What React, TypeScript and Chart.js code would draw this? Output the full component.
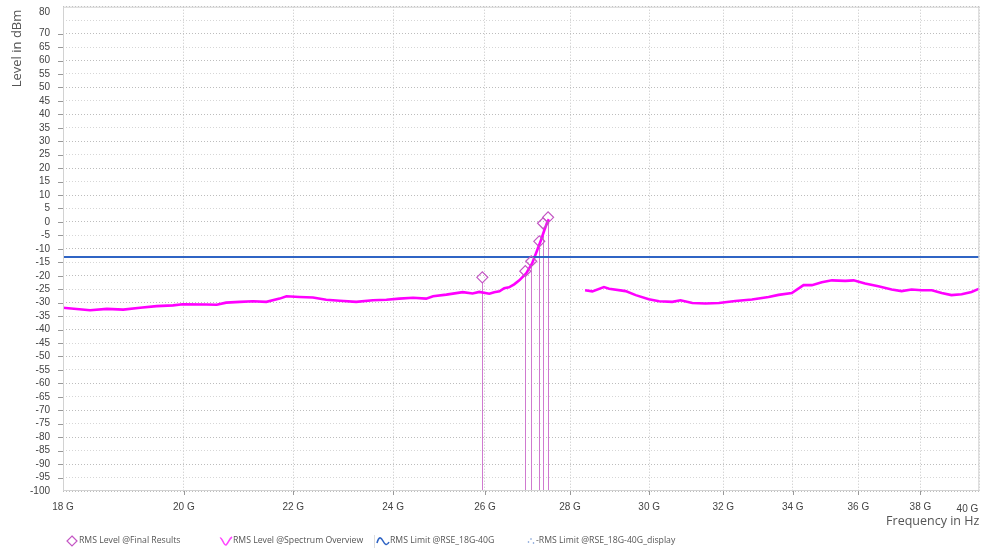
import React, { useEffect, useRef } from 'react';
import { Chart, registerables } from 'chart.js';

Chart.register(...registerables);

// ---------- data ----------
const xTickGHz = [18, 20, 22, 24, 26, 28, 30, 32, 34, 36, 38, 40];
const yTickLevels = [80, 70, 65, 60, 55, 50, 45, 40, 35, 30, 25, 20, 15, 10, 5, 0, -5, -10, -15, -20, -25, -30, -35, -40, -45, -50, -55, -60, -65, -70, -75, -80, -85, -90, -95, -100];

const spectrumFreqGHz = [
  18.0, 18.43, 18.7, 18.97, 19.25, 19.53, 19.81, 19.98, 20.4, 20.58, 20.75, 21.0, 21.24, 21.49, 21.74, 21.87,
  22.12, 22.38, 22.64, 22.91, 23.24, 23.58, 23.86, 24.13, 24.42, 24.7, 24.85, 25.14, 25.5, 25.72, 25.87,
  26.1, 26.21, 26.33, 26.44, 26.55, 26.67, 26.79, 26.95, 27.09, 27.21, 27.3, 27.38, 27.45, 27.49,
  27.9,
  28.37, 28.55, 28.84, 28.97, 29.39, 29.65, 29.99, 30.26, 30.61, 30.83, 31.15, 31.51, 31.88, 32.34, 32.81,
  33.29, 33.58, 33.97, 34.32, 34.57, 34.87, 35.18, 35.59, 35.85, 36.21, 36.63, 37.06, 37.38, 37.71, 38.04,
  38.38, 38.71, 39.04, 39.39, 39.73, 40.0,
];
const spectrumLevel = [
  -31.9, -32.8, -32.3, -32.6, -31.9, -31.3, -31.0, -30.6, -30.7, -30.8, -30.0, -29.7, -29.5, -29.7, -28.5, -27.6,
  -27.9, -28.1, -28.9, -29.3, -29.7, -29.1, -28.9, -28.5, -28.2, -28.5, -27.6, -27.0, -26.1, -26.6, -26.0,
  -26.7, -26.1, -25.8, -24.6, -24.3, -23.2, -21.7, -19.1, -15.4, -10.5, -6.8, -3.1, -0.1, 1.0,
  null,
  -25.4, -25.8, -24.2, -24.8, -25.7, -27.2, -28.7, -29.5, -29.7, -29.1, -30.1, -30.3, -30.1, -29.4, -28.8,
  -27.9, -27.1, -26.4, -23.5, -23.5, -22.4, -21.7, -21.9, -21.7, -22.9, -23.9, -25.1, -25.7, -25.1, -25.4,
  -25.4, -26.4, -27.2, -26.9, -26.0, -24.8,
];

const finalFreqGHz = [25.94, 26.93, 27.07, 27.26, 27.35, 27.47];
const finalLevel = [-20.6, -18.3, -14.6, -7.2, -0.5, 1.7];

const limitFreqGHz = [18, 40];
const limitLevel = [-13, -13];

const legendLabels = [
  'RMS Level @Final Results',
  'RMS Level @Spectrum Overview',
  'RMS Limit @RSE_18G-40G',
  '-RMS Limit @RSE_18G-40G_display',
];

const xTitle = 'Frequency in Hz';
const yTitle = 'Level in dBm';

// ---------- plugin ----------
const TICK_FONT = '10px "Liberation Sans", Arial, sans-serif';
const TITLE_FONT = '12.5px "Open Sans", sans-serif';

const decorPlugin = {
  id: 'decor',
  beforeDatasetsDraw(chart: any) {
    const { ctx, chartArea, scales } = chart;
    ctx.save();
    ctx.strokeStyle = '#cf7acf';
    ctx.lineWidth = 1;
    finalFreqGHz.forEach((f, i) => {
      const x = Math.round(scales.x.getPixelForValue(f)) + 0.5;
      const y = scales.y.getPixelForValue(finalLevel[i]);
      ctx.beginPath();
      ctx.moveTo(x, y + 5);
      ctx.lineTo(x, chartArea.bottom);
      ctx.stroke();
    });
    ctx.restore();
  },
  afterDraw(chart: any) {
    const { ctx, chartArea, scales } = chart;
    const { left, right, top, bottom } = chartArea;
    ctx.save();
    // frame
    ctx.strokeStyle = '#d2d2d2';
    ctx.lineWidth = 1;
    ctx.strokeRect(left + 0.5, top + 0.5, right - left - 1, bottom - top - 1);

    // y ticks
    ctx.font = TICK_FONT;
    ctx.fillStyle = '#444';
    ctx.textAlign = 'right';
    ctx.textBaseline = 'middle';
    ctx.strokeStyle = '#999';
    yTickLevels.forEach((v) => {
      let y = scales.y.getPixelForValue(v);
      if (v !== 80 && v !== -100) {
        ctx.beginPath();
        ctx.moveTo(left - 5, Math.round(y) + 0.5);
        ctx.lineTo(left, Math.round(y) + 0.5);
        ctx.stroke();
      }
      if (v === 80) y = top + 6;
      ctx.fillText(String(v), left - 13, y);
    });

    // x ticks
    ctx.textBaseline = 'middle';
    xTickGHz.forEach((f, i) => {
      const x = scales.x.getPixelForValue(f);
      const last = i === xTickGHz.length - 1;
      if (i !== 0 && !last) {
        ctx.beginPath();
        ctx.moveTo(Math.round(x) + 0.5, bottom);
        ctx.lineTo(Math.round(x) + 0.5, bottom + 4);
        ctx.stroke();
      }
      ctx.textAlign = last ? 'right' : 'center';
      ctx.fillText(`${f} G`, last ? right - 1 : x, bottom + (last ? 18 : 16));
    });

    // titles
    ctx.font = TITLE_FONT;
    ctx.fillStyle = '#555';
    ctx.textAlign = 'right';
    ctx.textBaseline = 'middle';
    ctx.fillText(xTitle, right, bottom + 30);
    ctx.translate(17, top + 3);
    ctx.rotate(-Math.PI / 2);
    ctx.font = '13px "Open Sans", sans-serif';
    ctx.fillText(yTitle, 0, 0);
    ctx.restore();
  },
};

// ---------- legend ----------
const legendTextStyle: React.CSSProperties = {
  position: 'absolute',
  top: 534,
  height: 14,
  lineHeight: '14px',
  font: '8.7px "Open Sans", sans-serif',
  color: '#555',
  whiteSpace: 'nowrap',
};

const gridColor = (ctx: any) => {
  const v = ctx.tick ? ctx.tick.value : 0;
  return Math.abs(v) % 10 === 0 ? '#bdbdbd' : '#d6d6d6';
};

export default function App() {
  const canvasRef = useRef<HTMLCanvasElement | null>(null);

  useEffect(() => {
    if (!canvasRef.current) return;
    const chart = new Chart(canvasRef.current, {
      type: 'line',
      data: {
        datasets: [
          {
            label: legendLabels[0],
            data: finalFreqGHz.map((f, i) => ({ x: f, y: finalLevel[i] })),
            showLine: false,
            pointStyle: 'rectRot',
            pointRadius: 5.5,
            pointBorderWidth: 1.2,
            pointBorderColor: '#c456c4',
            pointBackgroundColor: 'rgba(255,255,255,0)',
            borderColor: '#c456c4',
            order: 0,
          },
          {
            label: legendLabels[1],
            data: spectrumFreqGHz.map((f, i) => ({ x: f, y: spectrumLevel[i] })),
            borderColor: '#ff00ff',
            borderWidth: 2.6,
            pointRadius: 0,
            spanGaps: false,
            tension: 0,
            order: 2,
          },
          {
            label: legendLabels[2],
            data: limitFreqGHz.map((f, i) => ({ x: f, y: limitLevel[i] })),
            borderColor: '#2f64c4',
            borderWidth: 2,
            pointRadius: 0,
            order: 1,
          },
        ],
      },
      options: {
        animation: false,
        responsive: true,
        maintainAspectRatio: false,
        layout: { padding: { top: 6, right: 5, bottom: 23, left: 0 } },
        plugins: {
          legend: { display: false },
          tooltip: { enabled: false },
        },
        scales: {
          x: {
            type: 'logarithmic',
            min: 18,
            max: 40,
            afterBuildTicks: (scale: any) => {
              scale.ticks = xTickGHz.map((v) => ({ value: v }));
            },
            afterFit: (scale: any) => {
              scale.height = 40;
              scale.paddingLeft = 0;
              scale.paddingRight = 0;
            },
            ticks: { display: false },
            grid: { color: '#c4c4c4', drawTicks: false, lineWidth: 1 },
            border: { display: false, dash: [1, 2] },
          },
          y: {
            type: 'linear',
            min: -100,
            max: 80,
            ticks: { display: false, stepSize: 5 },
            afterFit: (scale: any) => {
              scale.width = 63;
              scale.paddingTop = 0;
              scale.paddingBottom = 0;
            },
            grid: { color: gridColor, drawTicks: false, lineWidth: 1 },
            border: { display: false, dash: [1, 2] },
          },
        },
      } as any,
      plugins: [decorPlugin],
    });
    return () => chart.destroy();
  }, []);

  return (
    <div style={{ position: 'fixed', left: 0, top: 0, width: 986, height: 554, background: '#fff' }}>
      <canvas ref={canvasRef} />
      <svg style={{ position: 'absolute', left: 66, top: 535 }} width={12} height={12}>
        <polygon points="6,1 11,6 6,11 1,6" fill="none" stroke="#c456c4" strokeWidth={1.2} />
      </svg>
      <div style={{ ...legendTextStyle, left: 79 }}>{legendLabels[0]}</div>
      <svg style={{ position: 'absolute', left: 219, top: 535 }} width={14} height={12}>
        <path d="M1,3 C3,2 5,11 7,10 C9,9 10,4 13,2" fill="none" stroke="#ff44ff" strokeWidth={1.6} />
      </svg>
      <div style={{ ...legendTextStyle, left: 233 }}>{legendLabels[1]}</div>
      <div style={{ position: 'absolute', left: 374, top: 535, width: 1, height: 13, background: '#ddd' }} />
      <svg style={{ position: 'absolute', left: 376, top: 535 }} width={14} height={12}>
        <path d="M1,8 C3,1 5,2 7,6 C9,10 11,11 13,7" fill="none" stroke="#2f64c4" strokeWidth={1.6} />
      </svg>
      <div style={{ ...legendTextStyle, left: 390 }}>{legendLabels[2]}</div>
      <svg style={{ position: 'absolute', left: 527, top: 535 }} width={10} height={12}>
        <circle cx={1.5} cy={7} r={0.8} fill="#6a8fd0" />
        <circle cx={4} cy={4} r={0.8} fill="#6a8fd0" />
        <circle cx={6.5} cy={8} r={0.8} fill="#6a8fd0" />
      </svg>
      <div style={{ ...legendTextStyle, left: 536 }}>{legendLabels[3]}</div>
    </div>
  );
}
